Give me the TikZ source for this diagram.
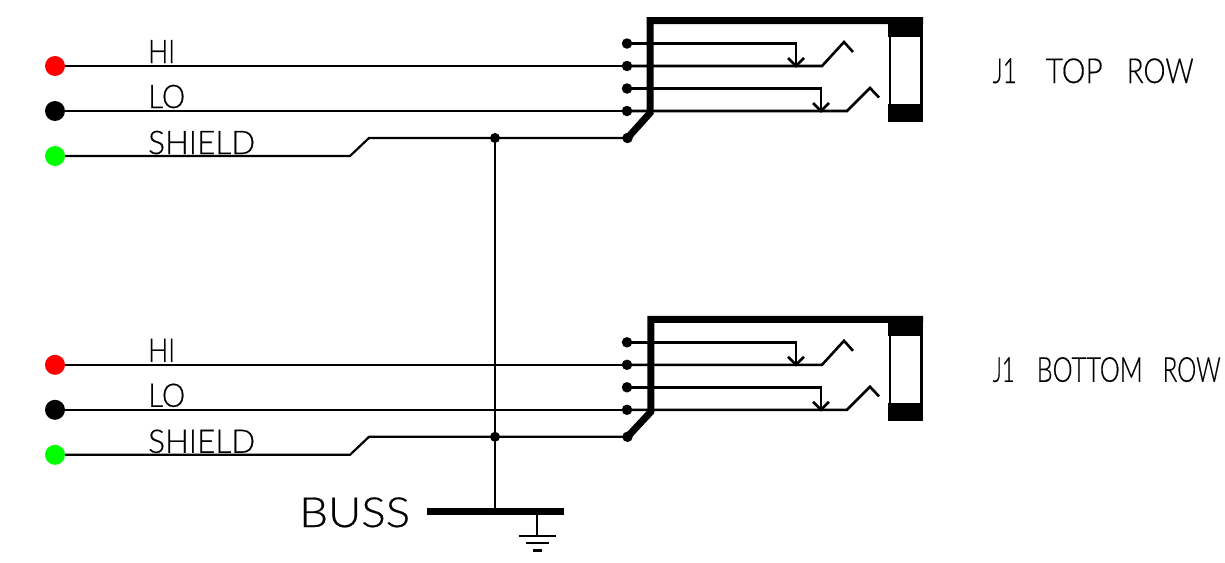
\documentclass[tikz,border=0pt]{standalone}
\usepackage{fontspec}
\usepackage{graphicx}
\setmainfont[FakeBold=0.5]{Lato Light}
\definecolor{hired}{RGB}{255,0,0}
\definecolor{shgreen}{RGB}{0,255,0}
\newcommand{\fitw}[2]{\resizebox{#1pt}{\height}{#2}}
\tikzset{
  x=1pt,y=-1pt,
  wire/.style={line width=2.2pt,line join=miter},
  inner wire/.style={line width=2.6pt,line join=miter},
  heavy/.style={line width=7pt,line join=miter},
  pin/.style={circle,fill=black,inner sep=0pt,minimum size=10.5pt},
  junct/.style={circle,fill=black,inner sep=0pt,minimum size=10pt},
  term/.style={circle,inner sep=0pt,minimum size=20pt},
  lbl/.style={anchor=base west,inner sep=0pt,font=\fontsize{32.5}{32.5}\selectfont},
  ttl/.style={anchor=base west,inner sep=0pt,font=\fontsize{34.5}{34.5}\selectfont},
  bigl/.style={anchor=base west,inner sep=0pt,font=\fontsize{41.5}{41.5}\selectfont},
  way/.style={inner sep=0pt,minimum size=0pt}
}
\begin{document}
\begin{tikzpicture}
\useasboundingbox (0,0) rectangle (1225,562);
\fill[white] (0,0) rectangle (1225,562);
\foreach \p/\o/\bx/\title in {%
  t/0/650/{\fitw{24}{J1}\hspace{29pt}\fitw{57}{TOP}\hspace{24pt}\fitw{67}{ROW}},%
  b/298.8/650.8/{\fitw{22}{J1}\hspace{22pt}\fitw{106}{BOTTOM}\hspace{20pt}\fitw{58}{ROW}}}{
\begin{scope}[shift={(0,\o)}]
  \node[pin] (\p p1) at (627,43.5) {};
  \node[pin] (\p p2) at (627,66) {};
  \node[pin] (\p p3) at (627,88.5) {};
  \node[pin] (\p p4) at (627,111) {};
  \node[pin] (\p p5) at (627.5,138) {};
  \draw[heavy] (\p p5.center) -- (\bx,113) -- (\bx,20.5) -- (923,20.5);
  \fill (888,17) rectangle (923,37);
  \fill (888,104) rectangle (923,122);
  \draw[line width=2.4pt] (890,37) -- (890,104) (921.5,37) -- (921.5,104);
  \node[term,fill=hired] (\p hi) at (55,66) {};
  \node[term,fill=black] (\p lo) at (55,111) {};
  \node[term,fill=shgreen] (\p sh) at (55,156) {};
  \node[junct] (\p j) at (495,138) {};
  \draw[wire] (\p hi) -- (\p p2.center);
  \draw[wire] (\p lo) -- (\p p4.center);
  \draw[wire] (\p sh) -- (350,156) -- (369,138) -- (\p j.center) -- (\p p5.center);
  \coordinate (\p a1) at (796,66);
  \coordinate (\p a2) at (821,111);
  \draw[inner wire] (\p p1.center) -- (796,43.5) -- (\p a1);
  \draw[inner wire] (788,58) -- (\p a1) -- (804,58);
  \draw[inner wire] (\p p2.center) -- (822,66) -- (844,42) -- (853,52);
  \draw[inner wire] (\p p3.center) -- (821,88.5) -- (\p a2);
  \draw[inner wire] (813,103) -- (\p a2) -- (829,103);
  \draw[inner wire] (\p p4.center) -- (847,111) -- (870,88) -- (879,97.5);
  \node[lbl] (\p lhi) at (148,63) {\fitw{27}{HI}};
  \node[lbl] (\p llo) at (148,108) {\fitw{37}{LO}};
  \node[lbl] (\p lsh) at (148,154) {\fitw{107}{SHIELD}};
  \node[ttl] (\p title) at (992.5,83) {\title};
\end{scope}
}
\node[way] (bb) at (495,511) {};
\draw[line width=2.8pt] (tj.center) -- (bj.center);
\draw[wire] (bj.center) -- (bb.center);
\draw[line width=7pt] (427,511) -- (564,511);
\node[bigl] (buss) at (299,527) {\fitw{111}{BUSS}};
\coordinate (g0) at (537,511);
\coordinate (g1) at (537,536);
\draw[wire] (g0) -- (g1);
\draw[wire] (519,536) -- (556,536);
\draw[wire] (526,543) -- (549,543);
\draw[wire] (533,550.5) -- (542,550.5);
\end{tikzpicture}
\end{document}
